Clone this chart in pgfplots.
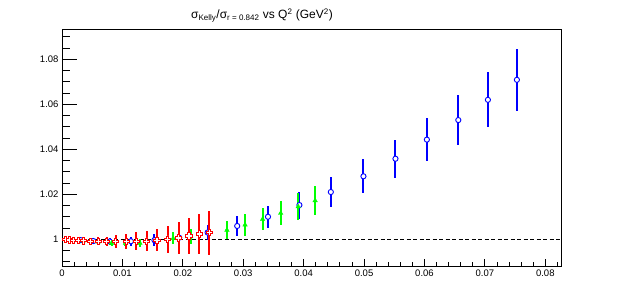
\documentclass[border=0pt]{standalone}
\usepackage{pgfplots}
\pgfplotsset{compat=1.18}
\usepackage{fontspec}
\setmainfont{Liberation Sans}
\definecolor{rblue}{RGB}{0,0,255}
\definecolor{rgreen}{RGB}{0,255,0}
\definecolor{rred}{RGB}{255,0,0}
\pgfdeclareplotmark{ocross}{%
  \pgfpathmoveto{\pgfqpoint{-0.35\pgfplotmarksize}{\pgfplotmarksize}}%
  \pgfpathlineto{\pgfqpoint{0.35\pgfplotmarksize}{\pgfplotmarksize}}%
  \pgfpathlineto{\pgfqpoint{0.35\pgfplotmarksize}{0.35\pgfplotmarksize}}%
  \pgfpathlineto{\pgfqpoint{\pgfplotmarksize}{0.35\pgfplotmarksize}}%
  \pgfpathlineto{\pgfqpoint{\pgfplotmarksize}{-0.35\pgfplotmarksize}}%
  \pgfpathlineto{\pgfqpoint{0.35\pgfplotmarksize}{-0.35\pgfplotmarksize}}%
  \pgfpathlineto{\pgfqpoint{0.35\pgfplotmarksize}{-\pgfplotmarksize}}%
  \pgfpathlineto{\pgfqpoint{-0.35\pgfplotmarksize}{-\pgfplotmarksize}}%
  \pgfpathlineto{\pgfqpoint{-0.35\pgfplotmarksize}{-0.35\pgfplotmarksize}}%
  \pgfpathlineto{\pgfqpoint{-\pgfplotmarksize}{-0.35\pgfplotmarksize}}%
  \pgfpathlineto{\pgfqpoint{-\pgfplotmarksize}{0.35\pgfplotmarksize}}%
  \pgfpathlineto{\pgfqpoint{-0.35\pgfplotmarksize}{0.35\pgfplotmarksize}}%
  \pgfpathclose
  \pgfusepathqfillstroke}
\pgfplotstableread{
x y e
0.0031 0.9996 0.0008
0.0052 0.9992 0.0012
0.0079 0.9990 0.0016
0.0114 0.9991 0.0020
0.0153 0.9996 0.0026
0.0194 1.0007 0.0027
0.0241 1.0030 0.0035
0.0290 1.0059 0.0043
0.0341 1.0100 0.0050
0.0393 1.0152 0.0060
0.0445 1.0210 0.0066
0.0499 1.0280 0.0075
0.0552 1.0358 0.0085
0.0604 1.0443 0.0097
0.0656 1.0530 0.0110
0.0705 1.0620 0.0123
0.0753 1.0709 0.0137
}\bluedata
\pgfplotstableread{
x y e
0.0012 0.9996 0.0005
0.0035 0.9993 0.0007
0.0060 0.9988 0.0009
0.0082 0.9983 0.0011
0.0105 0.9983 0.0014
0.0129 0.9983 0.0018
0.0157 0.9994 0.0023
0.0184 1.0004 0.0027
0.0213 1.0012 0.0034
0.0243 1.0031 0.0040
0.0273 1.0041 0.0041
0.0303 1.0064 0.0048
0.0332 1.0089 0.0050
0.0362 1.0116 0.0054
0.0391 1.0145 0.0060
0.0419 1.0172 0.0065
}\greendata
\pgfplotstableread{
x y e
0.0006 0.9998 0.0004
0.0012 0.9997 0.0006
0.0019 0.9996 0.0007
0.0027 0.9995 0.0008
0.0036 0.9993 0.0010
0.0047 0.9992 0.0013
0.0060 0.9991 0.0017
0.0074 0.9990 0.0022
0.0089 0.9990 0.0028
0.0106 0.9990 0.0033
0.0123 0.9991 0.0040
0.0140 0.9992 0.0045
0.0157 0.9996 0.0050
0.0175 1.0001 0.0060
0.0193 1.0006 0.0070
0.0210 1.0015 0.0080
0.0227 1.0024 0.0088
0.0244 1.0029 0.0097
}\reddata
\begin{document}
\begin{tikzpicture}[x=1pt,y=1pt]
\path[use as bounding box] (0,0) rectangle (623,296);
\begin{axis}[
  at={(62pt,30pt)}, anchor=south west,
  scale only axis, width=499pt, height=237pt,
  xmin=0, xmax=0.0826, ymin=0.9881, ymax=1.0935,
  axis line style={line width=0.8pt},
  tick align=inside, xtick pos=bottom, ytick pos=left,
  xtick={0,0.01,0.02,0.03,0.04,0.05,0.06,0.07,0.08},
  xticklabels={0,0.01,0.02,0.03,0.04,0.05,0.06,0.07,0.08},
  ytick={1,1.02,1.04,1.06,1.08},
  yticklabels={1,1.02,1.04,1.06,1.08},
  minor xtick={0,0.002,...,0.0821},
  minor ytick={0.99,0.995,...,1.0921},
  major tick length=15pt, minor tick length=7.5pt,
  xtick style={/pgfplots/major tick length=7pt,/pgfplots/minor tick length=3.5pt},
  tick style={black, line width=0.8pt},
  scaled ticks=false,
  ticklabel style={font=\fontsize{9.5}{11}\selectfont},
  /pgf/number format/assume math mode=true,
  clip=false,
]
\addplot[black, line width=0.8pt, dash pattern=on 4pt off 2.5pt] coordinates {(0,1) (0.0826,1)};
\addplot[rblue, only marks, mark=*, mark size=2.6pt, mark options={fill=white, draw=rblue, line width=0.9pt},
  error bars/.cd, y dir=both, y explicit, error mark=none,
  error bar style={line width=2pt, draw=rblue}]
  table[x=x, y=y, y error=e] {\bluedata};
\addplot[rgreen, only marks, mark=triangle*, mark size=2.6pt, mark options={fill=rgreen, draw=rgreen},
  error bars/.cd, y dir=both, y explicit, error mark=none,
  error bar style={line width=2pt, draw=rgreen}]
  table[x=x, y=y, y error=e] {\greendata};
\addplot[rred, only marks, mark=ocross, mark size=3.1pt, mark options={fill=white, draw=rred, line width=0.8pt},
  error bars/.cd, y dir=both, y explicit, error mark=none,
  error bar style={line width=2pt, draw=rred}]
  table[x=x, y=y, y error=e] {\reddata};
\end{axis}
\node[anchor=base, font=\fontsize{12}{15}\selectfont] at (262,277) {σ\textsubscript{Kelly}/σ\textsubscript{r = 0.842} vs Q\textsuperscript{2} (GeV\textsuperscript{2})};
\end{tikzpicture}
\end{document}
